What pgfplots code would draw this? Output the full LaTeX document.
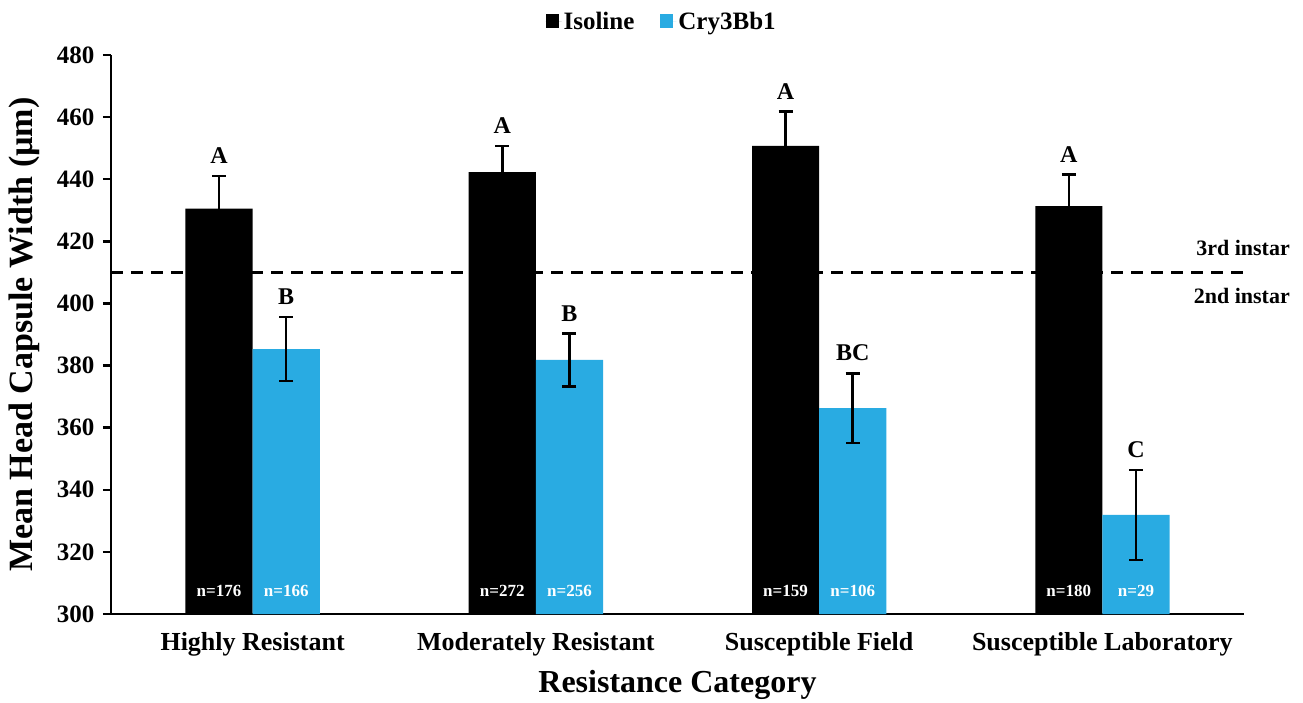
\documentclass[border=0pt]{standalone}
\usepackage{pgfplots}
\pgfplotsset{compat=1.18}
\usepackage{pgfplotstable}
\usepackage{fontspec}
\setmainfont{Liberation Serif}
\definecolor{cry}{RGB}{41,171,226}
\pgfplotstableread{
x y e
0 430.5 10.5
1 442.3 8.4
2 450.7 11.1
3 431.3 10.2
}\iso
\pgfplotstableread{
x y e
0 385.3 10.3
1 381.8 8.5
2 366.3 11.2
3 331.9 14.5
}\cryt
\begin{document}
\begin{tikzpicture}
\begin{axis}[
  scale only axis, width=1133pt, height=559pt,
  xmin=-0.5, xmax=3.5, ymin=300, ymax=480,
  axis x line=bottom, axis y line=left,
  axis line style={line width=2.5pt, -},
  ytick={300,320,...,480},
  xtick={0,1,2,3},
  xticklabels={Highly Resistant, Moderately Resistant, Susceptible Field, Susceptible Laboratory},
  minor xtick={-0.5,0.5,1.5,2.5,3.5},
  xtick style={draw=none},
  minor x tick style={line width=2.5pt, black},
  y tick style={line width=2.5pt, black},
  tick align=outside,
  major tick length=8pt, minor tick length=8pt,
  /pgf/number format/assume math mode=true,
  yticklabel style={font=\fontsize{25}{29}\selectfont\bfseries, xshift=-5pt},
  xticklabel style={font=\fontsize{26}{30}\selectfont\bfseries, yshift=-7pt},
  xlabel={Resistance Category},
  ylabel={Mean Head Capsule Width (µm)},
  xlabel style={font=\fontsize{32}{38}\selectfont\bfseries, yshift=-7pt},
  ylabel style={font=\fontsize{34}{40}\selectfont\bfseries, yshift=10pt},
  ybar, bar width=0.237,
  legend style={at={(0.486,1)}, anchor=south, yshift=20pt, draw=none,
    legend columns=2, font=\fontsize{25}{30}\selectfont\bfseries,
    /tikz/every even column/.append style={column sep=24pt}},
  legend image code/.code={\fill[#1] (0pt,-7pt) rectangle (13pt,7pt); \path (0pt,0pt) -- (16pt,0pt);},
  clip=false,
]
\addplot[fill=black, draw=none, bar shift=-0.1185,
  error bars/.cd, y dir=both, y explicit,
  error bar style={line width=2.5pt, black},
  error mark options={rotate=90, mark size=7pt, line width=2.5pt, black}]
  table[x=x, y=y, y error=e] {\iso};
\addlegendentry{Isoline}
\addplot[fill=cry, draw=none, bar shift=0.1185,
  error bars/.cd, y dir=both, y explicit,
  error bar style={line width=2.5pt, black},
  error mark options={rotate=90, mark size=7pt, line width=2.5pt, black}]
  table[x=x, y=y, y error=e] {\cryt};
\addlegendentry{Cry3Bb1}
\draw[line width=2.6pt, dash pattern=on 12pt off 8pt] (axis cs:-0.5,410) -- (axis cs:3.5,410);
\begin{scope}[every node/.style={font=\fontsize{24}{28}\selectfont\bfseries, anchor=south, inner sep=0pt}]
\node at (axis cs:-0.1185,441.0) [yshift=12pt] {A};
\node at (axis cs:0.8815,450.7) [yshift=12pt] {A};
\node at (axis cs:1.8815,461.8) [yshift=12pt] {A};
\node at (axis cs:2.8815,441.5) [yshift=12pt] {A};
\node at (axis cs:0.1185,395.6) [yshift=12pt] {B};
\node at (axis cs:1.1185,390.3) [yshift=12pt] {B};
\node at (axis cs:2.1185,377.5) [yshift=12pt] {BC};
\node at (axis cs:3.1185,346.4) [yshift=12pt] {C};
\end{scope}
\begin{scope}[every node/.style={font=\fontsize{17}{20}\selectfont\bfseries, text=white, anchor=center, inner sep=0pt}]
\node at (axis cs:-0.1185,300) [yshift=23pt] {n=176};
\node at (axis cs:0.1185,300) [yshift=23pt] {n=166};
\node at (axis cs:0.8815,300) [yshift=23pt] {n=272};
\node at (axis cs:1.1185,300) [yshift=23pt] {n=256};
\node at (axis cs:1.8815,300) [yshift=23pt] {n=159};
\node at (axis cs:2.1185,300) [yshift=23pt] {n=106};
\node at (axis cs:2.8815,300) [yshift=23pt] {n=180};
\node at (axis cs:3.1185,300) [yshift=23pt] {n=29};
\end{scope}
\node[font=\fontsize{22}{26}\selectfont\bfseries, anchor=east, inner sep=0pt] at (axis cs:3.5,410) [xshift=46pt, yshift=24pt] {3rd instar};
\node[font=\fontsize{22}{26}\selectfont\bfseries, anchor=east, inner sep=0pt] at (axis cs:3.5,410) [xshift=46pt, yshift=-24pt] {2nd instar};
\end{axis}
\path (current axis.south west) ++(-111pt,-88pt) rectangle ++(1303pt,702pt);
\end{tikzpicture}
\end{document}
